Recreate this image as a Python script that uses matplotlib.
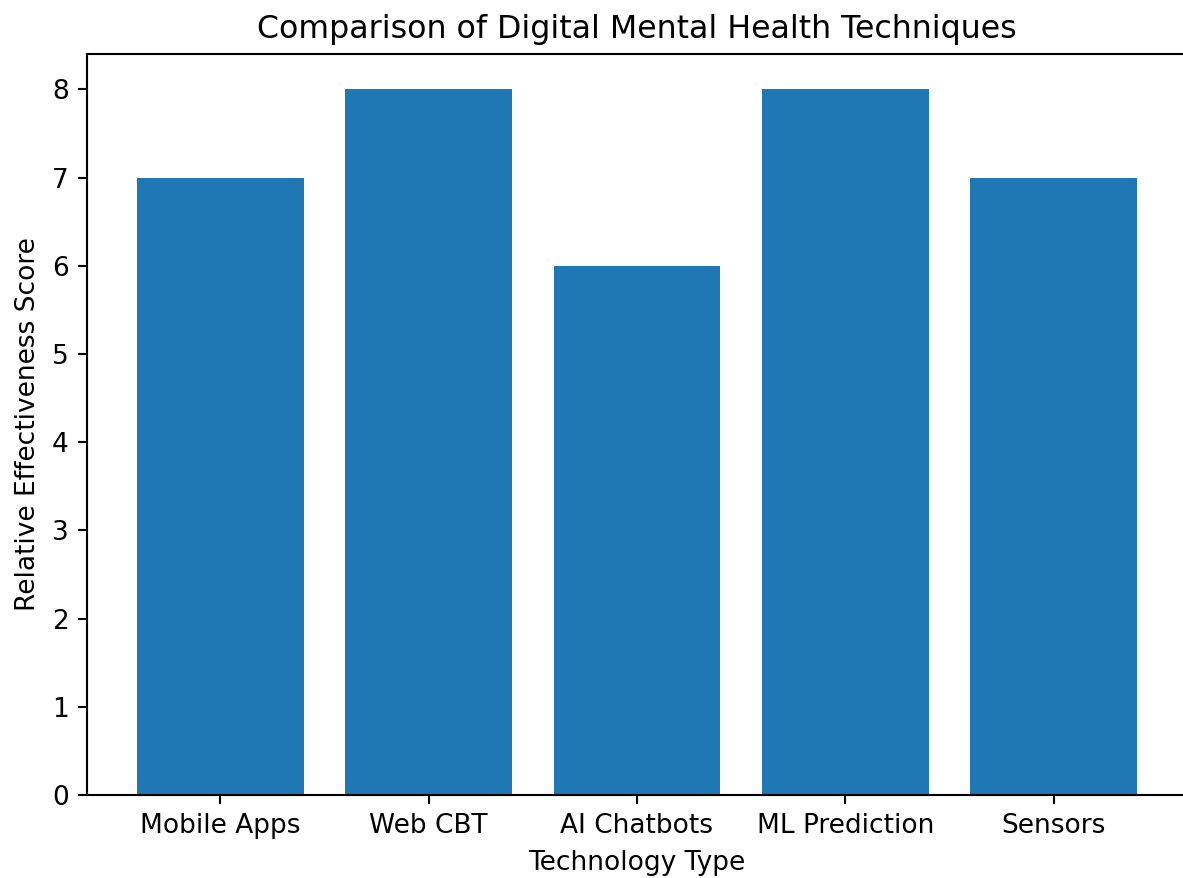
import matplotlib
matplotlib.use('Agg')
import matplotlib.pyplot as plt

techniques = ['Mobile Apps', 'Web CBT', 'AI Chatbots', 'ML Prediction', 'Sensors']
scores = [7, 8, 6, 8, 7]

dpi = 190
fig = plt.figure(figsize=(1183 / dpi, 878 / dpi), dpi=dpi)
# the reference image is cropped on the right, right spine falls just outside
ax = fig.add_axes([87 / 1183, 1 - 795 / 878, (1187 - 87) / 1183, (795 - 54) / 878])

ax.bar(techniques, scores, color='#1f77b4')
ax.set_title('Comparison of Digital Mental Health Techniques')
ax.set_xlabel('Technology Type')
ax.set_ylabel('Relative Effectiveness Score')

fig.savefig('out.png', dpi=dpi)
